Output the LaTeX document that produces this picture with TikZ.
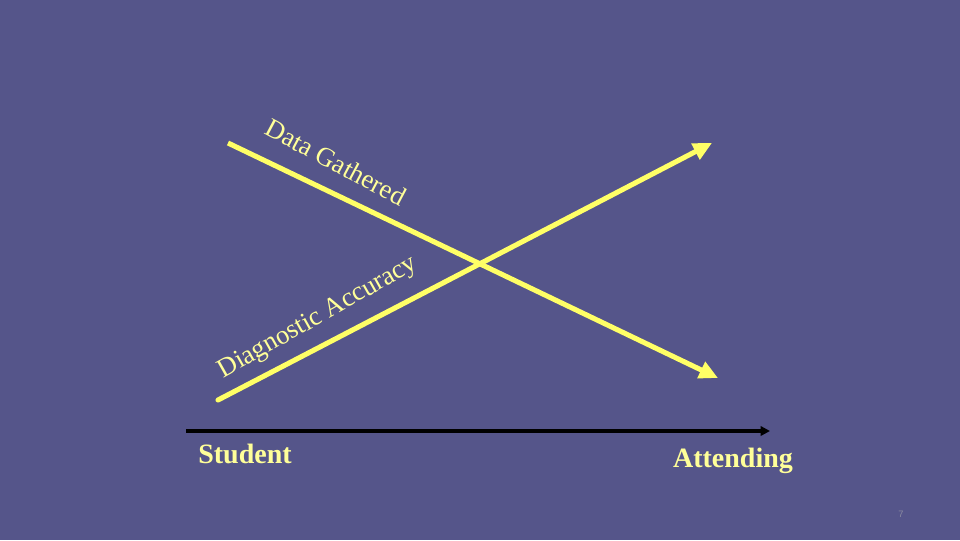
\documentclass[tikz,border=0pt]{standalone}
\usepackage{fontspec}
\setmainfont{Liberation Serif}
\setsansfont{Liberation Sans}
\usepackage{tikz}
\usetikzlibrary{arrows.meta, positioning}
\definecolor{slide}{RGB}{85,85,138}
\definecolor{ylw}{RGB}{255,255,102}
\definecolor{pale}{RGB}{255,255,153}
\tikzstyle{yline} = [draw=ylw, line width=3.8pt, -{Triangle[length=14pt,width=13pt]}]
\tikzstyle{axis} = [draw=black, line width=3pt, -{Triangle[length=7pt,width=7pt]}]
\tikzstyle{slant} = [text=pale, font=\fontsize{20}{20}\selectfont, inner sep=0pt]
\tikzstyle{end} = [text=pale, font=\bfseries\fontsize{21}{21}\selectfont, inner sep=0pt]

\begin{document}
\begin{tikzpicture}[x=0.75pt,y=-0.75pt]
    \fill[slide] (0,0) rectangle (960,540);
    \useasboundingbox (0,0) rectangle (960,540);
    % the two crossing lines
    \coordinate (dgs) at (228,143);
    \coordinate (dge) at (718,378);
    \coordinate (das) at (218,400);
    \coordinate (dae) at (712,143);
    \draw[yline] (dgs) -- (dge);
    \draw[yline, line cap=round] (das) -- (dae);
    \node[slant, rotate=-28] (gathered) at (336,162) {Data Gathered};
    \node[slant, rotate=29.5] (accuracy) at (318,318) {Diagnostic Accuracy};
    % the axis
    \coordinate (ax0) at (186,431);
    \coordinate (ax1) at (770,431);
    \draw[axis] (ax0) -- (ax1);
    \node[end] (student) at (245,454) {Student};
    \node[end] (attending) at (733,461) {Attending};
    \node[text=black!30!slide!60!white, font=\sffamily\fontsize{7}{7}\selectfont] (page) at (901,514) {7};
\end{tikzpicture}
\end{document}
